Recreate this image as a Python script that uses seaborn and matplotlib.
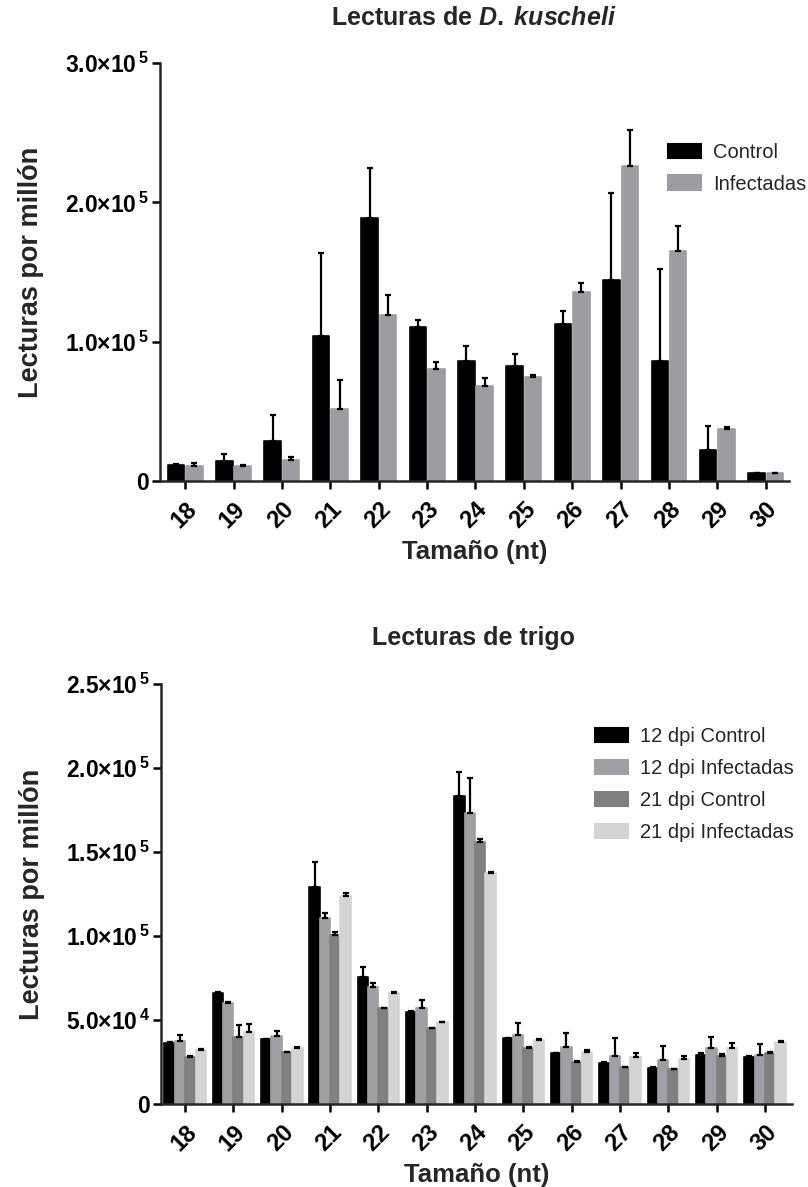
import numpy as np
import pandas as pd
import matplotlib
matplotlib.use("Agg")
import matplotlib.pyplot as plt
import seaborn as sns
from matplotlib.ticker import FuncFormatter
from matplotlib.patches import Patch

# ---------------- data ----------------
sizes = ["18", "19", "20", "21", "22", "23", "24", "25", "26", "27", "28", "29", "30"]

# Top chart: D. kuscheli
dk_groups = ["Control", "Infectadas"]
dk_control = [11500, 14600, 28900, 103900, 188600, 110300, 86400, 82800, 112700, 144500, 85900, 22300, 5500]
dk_control_err = [500, 4800, 18500, 59800, 36100, 5300, 10700, 8400, 9100, 62200, 66300, 17000, 300]
dk_infect = [10500, 10500, 15300, 51700, 119400, 80400, 68400, 74900, 135900, 225900, 165100, 37300, 5500]
dk_infect_err = [2200, 1000, 1700, 21000, 14400, 4800, 5300, 1400, 6000, 26100, 18200, 1500, 500]
dk_colors = ["#000000", "#9d9da1"]

# Bottom chart: trigo
tr_groups = ["12 dpi Control", "12 dpi Infectadas", "21 dpi Control", "21 dpi Infectadas"]
tr_c12 = [36500, 66300, 38500, 129300, 75800, 54900, 183300, 39100, 30200, 24600, 21600, 29200, 28200]
tr_c12_err = [300, 300, 300, 14900, 5900, 300, 14500, 300, 300, 300, 300, 1000, 300]
tr_i12 = [37500, 60300, 40500, 110500, 69800, 56900, 173400, 41100, 33700, 28800, 26200, 33100, 29200]
tr_i12_err = [3500, 500, 3000, 3000, 2000, 5000, 20500, 7300, 8400, 10300, 8500, 6600, 6500]
tr_c21 = [28200, 40100, 30800, 100600, 56900, 45000, 156100, 33100, 24800, 21800, 20600, 28600, 30200]
tr_c21_err = [300, 6900, 300, 2000, 300, 300, 1500, 1000, 700, 500, 500, 1000, 700]
tr_i21 = [32100, 43100, 33500, 123800, 65900, 48600, 137700, 38100, 31100, 28200, 26600, 33500, 36700]
tr_i21_err = [500, 4500, 500, 2000, 500, 500, 300, 700, 1000, 2000, 2000, 2600, 700]
tr_colors = ["#000000", "#a0a0a4", "#808080", "#d4d4d4"]

# ---------------- style ----------------
sns.set_theme(style="ticks")
plt.rcParams["font.family"] = ["Liberation Sans", "DejaVu Sans"]
plt.rcParams["mathtext.fontset"] = "custom"
plt.rcParams["mathtext.rm"] = "Liberation Sans:bold"
plt.rcParams["mathtext.bf"] = "Liberation Sans:bold"
plt.rcParams["mathtext.it"] = "Liberation Sans:italic:bold"

W, H = 808, 1187
fig = plt.figure(figsize=(W / 100, H / 100), dpi=100)


def px_axes(left, right, top, bottom):
    return fig.add_axes([left / W, 1 - bottom / H, (right - left) / W, (bottom - top) / H])


def sci_fmt(v, pos):
    if v == 0:
        return "0"
    e = int(np.floor(np.log10(v) + 1e-9))
    m = v / 10 ** e
    return f"{m:.1f}×10$^{{\\,{e}}}$"


def draw_panel(ax, groups, series, errors, colors, width, gap, ylim, yticks, xlim):
    df = pd.DataFrame({
        "size": sizes * len(groups),
        "value": np.concatenate(series),
        "group": np.repeat(groups, len(sizes)),
    })
    sns.barplot(data=df, x="size", y="value", hue="group", order=sizes,
                hue_order=groups, palette=colors, errorbar=None, width=width,
                gap=gap, saturation=1, legend=False, ax=ax)
    for p in ax.patches:
        p.set_edgecolor(p.get_facecolor())
        p.set_linewidth(1.2)
        p.set_joinstyle("round")
    for cont, errs in zip(ax.containers, errors):
        xs = [b.get_x() + b.get_width() / 2 for b in cont]
        ys = [b.get_height() for b in cont]
        ax.errorbar(xs, ys, yerr=[np.zeros(len(errs)), errs], fmt="none",
                    ecolor="black", elinewidth=1.6, capsize=2.2, capthick=1.6, zorder=3)
    ax.set_ylim(*ylim)
    ax.set_yticks(yticks)
    ax.set_xlim(*xlim)
    ax.yaxis.set_major_formatter(FuncFormatter(sci_fmt))
    sns.despine(ax=ax)
    for s in ["left", "bottom"]:
        ax.spines[s].set_linewidth(1.8)
    ax.tick_params(axis="both", direction="out", length=6, width=1.8,
                   color="black", labelcolor="black")
    ax.tick_params(axis="y", pad=2, labelsize=16.5)
    ax.tick_params(axis="x", pad=6, labelsize=17)
    for lab in ax.get_yticklabels():
        lab.set_fontweight("bold")
    for lab in ax.get_xticklabels():
        lab.set_fontweight("bold")
        lab.set_rotation(45)
        lab.set_ha("right")
        lab.set_va("top")
        lab.set_rotation_mode("anchor")
    ax.set_xlabel("Tamaño (nt)", fontsize=18.5, fontweight="bold", labelpad=5)
    ax.set_ylabel("Lecturas por millón", fontsize=19.5, fontweight="bold", labelpad=15)
    ax.set_facecolor("white")


# ---------------- top panel ----------------
ax1 = px_axes(160, 789, 63, 481)
draw_panel(ax1, dk_groups, [dk_control, dk_infect], [dk_control_err, dk_infect_err],
           dk_colors, 0.76, 0.1, (0, 300000), [0, 100000, 200000, 300000], (-0.52, 12.48))
ax1.legend(handles=[Patch(facecolor=c, edgecolor=c, linewidth=1.5, joinstyle="round")
                    for c in dk_colors],
           labels=dk_groups, loc="upper left", bbox_to_anchor=(660 / W, 1 - 135 / H),
           bbox_transform=fig.transFigure, frameon=False, fontsize=14.5,
           handlelength=1.65, handleheight=0.72, handletextpad=0.6, labelspacing=0.62,
           borderaxespad=0, borderpad=0.4)
fig.text(474 / W, 1 - 18 / H, r"Lecturas de $\mathit{D.\;kuscheli}$", ha="center",
         va="center", fontsize=18, fontweight="bold")

# ---------------- bottom panel ----------------
ax2 = px_axes(161, 792, 684, 1104)
draw_panel(ax2, tr_groups, [tr_c12, tr_i12, tr_c21, tr_i21],
           [tr_c12_err, tr_i12_err, tr_c21_err, tr_i21_err],
           tr_colors, 0.86, 0.0, (0, 250000),
           [0, 50000, 100000, 150000, 200000, 250000], (-0.5, 12.56))
ax2.legend(handles=[Patch(facecolor=c, edgecolor=c, linewidth=1.5, joinstyle="round")
                    for c in tr_colors],
           labels=tr_groups, loc="upper left", bbox_to_anchor=(587 / W, 1 - 719 / H),
           bbox_transform=fig.transFigure, frameon=False, fontsize=14.5,
           handlelength=1.65, handleheight=0.72, handletextpad=0.6, labelspacing=0.65,
           borderaxespad=0, borderpad=0.4)
fig.text(474 / W, 1 - 638 / H, "Lecturas de trigo", ha="center", va="center",
         fontsize=18, fontweight="bold")

fig.savefig("out.png", dpi=100, facecolor="white")
